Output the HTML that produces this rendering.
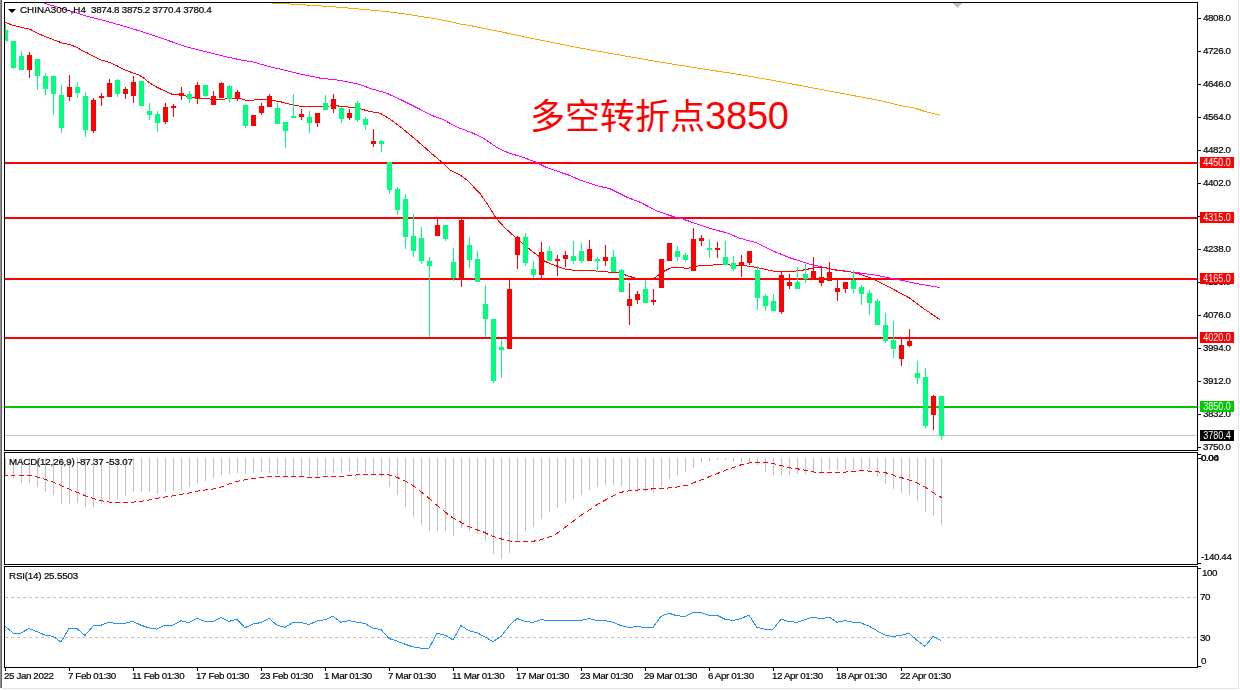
<!DOCTYPE html>
<html><head><meta charset="utf-8"><title>CHINA300 H4</title>
<style>
html,body{margin:0;padding:0;background:#fff;}
body{width:1240px;height:690px;position:relative;overflow:hidden;}
.t{position:absolute;font-family:"Liberation Sans",Arial,sans-serif;font-size:9.8px;letter-spacing:-0.4px;line-height:11px;color:#000;white-space:pre;will-change:transform;-webkit-text-stroke:0.2px #000;}
.lb{position:absolute;left:1200px;width:34px;height:11px;font-family:"Liberation Sans",Arial,sans-serif;font-size:9px;line-height:11px;color:#fff;text-align:center;white-space:pre;}
.lb span{display:inline-block;transform:scaleY(1.16);transform-origin:0 2px;}
.big{position:absolute;left:530px;top:94.4px;font-family:"Liberation Sans","Noto Sans CJK SC",sans-serif;font-size:35px;line-height:44px;color:#FF0000;white-space:pre;}
.dg{font-size:38px;letter-spacing:-0.2px;position:relative;top:-0.5px;}
.tri{position:absolute;left:8px;top:9px;width:0;height:0;border-left:4px solid transparent;border-right:4px solid transparent;border-top:4px solid #000;}
.lbar{position:absolute;left:0;top:0;width:1px;height:688px;background:#909090;}
.lbar2{position:absolute;left:1px;top:0;width:1px;height:688px;background:#606060;}
.rline{position:absolute;left:1238px;top:0;width:1px;height:689px;background:#E3E3E3;}
.bline{position:absolute;left:2px;top:688px;width:1237px;height:1px;background:#E3E3E3;}
</style></head><body>
<div class="lbar"></div><div class="lbar2"></div><div class="rline"></div><div class="bline"></div>
<svg width="1240" height="690" style="position:absolute;left:0;top:0"><defs><clipPath id="cm"><rect x="5" y="3" width="1192" height="447"/></clipPath><clipPath id="cmacd"><rect x="5" y="453" width="1192" height="111"/></clipPath><clipPath id="crsi"><rect x="5" y="567" width="1192" height="100"/></clipPath></defs><g clip-path="url(#cm)" shape-rendering="crispEdges"><rect x="5" y="162" width="1192" height="2" fill="#FF0000"/><rect x="5" y="217" width="1192" height="2" fill="#FF0000"/><rect x="5" y="278" width="1192" height="2" fill="#FF0000"/><rect x="5" y="337" width="1192" height="2" fill="#FF0000"/><rect x="5" y="406" width="1192" height="2" fill="#00C800"/><rect x="5" y="435" width="1192" height="1" fill="#C0C0C0"/><polyline points="272,3.5 282,3.5 298,4.5 314,5.5 330,6.5 354,8.5 370,10 386,11.5 402,13.5 418,16 434,18.5 450,21.5 460,24 470,25.5 500.3,31.7 540.6,40.2 581,48.2 621.3,55.3 661.6,62.3 700,68.5 739.5,74.5 779,81.5 818.6,89 858.1,96.5 880,100.5 900,105.5 906,106.5 912,107.5 916,108.5 919,109.5 922,110.5 925,111.5 929,112.5 933,113.5 937,114.5 940.5,115.5" fill="none" stroke="#FFA500" stroke-width="1" /><polyline points="44,3 48,4.3 69,10.6 88,16.5 107,21.3 127,27.1 146,32.9 165,39.4 185,46.4 204,51.3 223,56.1 243,60.4 252,61.7 270,66.8 284,70 300,74 320,78.1 340,80.4 360,84.5 370,88.4 386,92.9 402,100.2 418,108.2 430,114.7 443,119.5 457,127.1 473,133.2 484.5,138.9 496,146.9 507,152.3 523,157.4 534.5,161.5 547.4,167.9 570,175.5 579.4,179.8 597.1,185.8 610,188.7 627.7,197.6 640.6,202.4 656.8,211 672.9,216.5 682.6,219 698.7,224.5 714.8,229.8 727.7,233.1 740,238.3 757,242.9 773.9,251.4 790.8,258.1 807.8,263.7 818,266.1 829.8,268.8 841.7,270.8 858.6,272.9 875.6,275.1 887.5,277.6 901,280.2 918,283.9 940,287.5" fill="none" stroke="#FF00FF" stroke-width="1" /><polyline points="4,22 5,22.4 8,23.4 13,25.4 18,26.5 22,27.5 26,28.4 30,29.2 34,31.5 38,33.5 45,36.5 52,39.1 62,43 70,44.5 76,47 83,51 88,53.2 92,55.7 101,60 110,62.5 117,65.8 125,69.9 133,73 139,75.1 145,79.1 150,83.2 157,87.3 165,91.1 172,94.2 178,94.5 183,95.4 190,97 200,98.3 215,99.4 225,99 240,98.3 245,100 250,100.4 260,99.4 270,100.2 280,101.6 290,104.2 300,106.2 320,106.2 330,106 335,104.8 340,106.5 350,107.1 360,108.8 370,111.5 380,113.1 389.4,118.7 402.3,128.4 416.8,140.5 429.7,151.8 441,161.5 450.6,170.3 460.3,175.2 467,180 480,193.6 488,205 496,218 505,228 515,237 525,245.7 535,253.3 545,261.4 555,265.5 565,269 575,270.5 590,270.5 605,271.8 620,273 630,276.6 640,279.3 650,279.6 655,277.8 659,274.7 664,271.2 669,268.7 674,267.1 680,267.1 685,268.3 689,268.1 693,267.1 700,265.5 712,265.4 715,264.3 725,264.3 730,265 735,265.7 740,264.9 757,267.5 773.9,271.2 782.4,271.9 799.3,270.8 807.8,269.2 816.3,267.1 824.7,267.5 834.9,270 848.5,271.4 858.6,273.9 872.2,278.5 884.1,284.4 909.5,298 923,308.1 940,319.7" fill="none" stroke="#FF0000" stroke-width="1" /><rect x="5" y="24" width="1" height="17" fill="#00FF7F"/><rect x="3" y="30" width="5" height="11" fill="#00FF7F"/><rect x="13" y="41" width="1" height="28" fill="#00FF7F"/><rect x="11" y="41" width="5" height="27" fill="#00FF7F"/><rect x="21" y="51" width="1" height="19" fill="#00FF7F"/><rect x="19" y="56" width="5" height="14" fill="#00FF7F"/><rect x="29" y="52" width="1" height="26" fill="#FF0000"/><rect x="27" y="55" width="5" height="15" fill="#FF0000"/><rect x="37" y="59" width="1" height="31" fill="#00FF7F"/><rect x="35" y="59" width="5" height="17" fill="#00FF7F"/><rect x="45" y="73" width="1" height="22" fill="#00FF7F"/><rect x="43" y="76" width="5" height="13" fill="#00FF7F"/><rect x="53" y="76" width="1" height="39" fill="#00FF7F"/><rect x="51" y="76" width="5" height="18" fill="#00FF7F"/><rect x="61" y="85" width="1" height="48" fill="#00FF7F"/><rect x="59" y="95" width="5" height="33" fill="#00FF7F"/><rect x="69" y="75" width="1" height="26" fill="#FF0000"/><rect x="67" y="87" width="5" height="10" fill="#FF0000"/><rect x="77" y="82" width="1" height="16" fill="#00FF7F"/><rect x="75" y="87" width="5" height="6" fill="#00FF7F"/><rect x="85" y="92" width="1" height="45" fill="#00FF7F"/><rect x="83" y="96" width="5" height="34" fill="#00FF7F"/><rect x="93" y="98" width="1" height="35" fill="#FF0000"/><rect x="91" y="100" width="5" height="31" fill="#FF0000"/><rect x="101" y="93" width="1" height="13" fill="#FF0000"/><rect x="99" y="96" width="5" height="2" fill="#FF0000"/><rect x="109" y="79" width="1" height="17" fill="#FF0000"/><rect x="107" y="83" width="5" height="14" fill="#FF0000"/><rect x="117" y="79" width="1" height="18" fill="#00FF7F"/><rect x="115" y="80" width="5" height="14" fill="#00FF7F"/><rect x="125" y="87" width="1" height="12" fill="#FF0000"/><rect x="123" y="89" width="5" height="5" fill="#FF0000"/><rect x="133" y="76" width="1" height="27" fill="#FF0000"/><rect x="131" y="82" width="5" height="14" fill="#FF0000"/><rect x="141" y="81" width="1" height="24" fill="#00FF7F"/><rect x="139" y="81" width="5" height="25" fill="#00FF7F"/><rect x="149" y="103" width="1" height="17" fill="#00FF7F"/><rect x="147" y="111" width="5" height="4" fill="#00FF7F"/><rect x="157" y="111" width="1" height="21" fill="#00FF7F"/><rect x="155" y="114" width="5" height="9" fill="#00FF7F"/><rect x="165" y="103" width="1" height="21" fill="#FF0000"/><rect x="163" y="107" width="5" height="15" fill="#FF0000"/><rect x="173" y="104" width="1" height="13" fill="#FF0000"/><rect x="171" y="106" width="5" height="2" fill="#FF0000"/><rect x="181" y="87" width="1" height="13" fill="#FF0000"/><rect x="179" y="93" width="5" height="3" fill="#FF0000"/><rect x="189" y="91" width="1" height="12" fill="#00FF7F"/><rect x="187" y="94" width="5" height="5" fill="#00FF7F"/><rect x="197" y="82" width="1" height="22" fill="#FF0000"/><rect x="195" y="85" width="5" height="14" fill="#FF0000"/><rect x="205" y="85" width="1" height="12" fill="#00FF7F"/><rect x="203" y="85" width="5" height="11" fill="#00FF7F"/><rect x="213" y="91" width="1" height="14" fill="#FF0000"/><rect x="211" y="96" width="5" height="9" fill="#FF0000"/><rect x="221" y="82" width="1" height="15" fill="#FF0000"/><rect x="219" y="83" width="5" height="15" fill="#FF0000"/><rect x="229" y="85" width="1" height="17" fill="#00FF7F"/><rect x="227" y="86" width="5" height="13" fill="#00FF7F"/><rect x="237" y="90" width="1" height="11" fill="#FF0000"/><rect x="235" y="92" width="5" height="7" fill="#FF0000"/><rect x="245" y="105" width="1" height="23" fill="#00FF7F"/><rect x="243" y="105" width="5" height="21" fill="#00FF7F"/><rect x="253" y="115" width="1" height="10" fill="#FF0000"/><rect x="251" y="115" width="5" height="11" fill="#FF0000"/><rect x="261" y="103" width="1" height="12" fill="#FF0000"/><rect x="259" y="106" width="5" height="7" fill="#FF0000"/><rect x="269" y="94" width="1" height="12" fill="#FF0000"/><rect x="267" y="96" width="5" height="11" fill="#FF0000"/><rect x="277" y="103" width="1" height="21" fill="#00FF7F"/><rect x="275" y="108" width="5" height="16" fill="#00FF7F"/><rect x="285" y="122" width="1" height="26" fill="#00FF7F"/><rect x="283" y="122" width="5" height="9" fill="#00FF7F"/><rect x="293" y="94" width="1" height="24" fill="#00FF7F"/><rect x="291" y="116" width="5" height="2" fill="#00FF7F"/><rect x="301" y="109" width="1" height="11" fill="#FF0000"/><rect x="299" y="114" width="5" height="3" fill="#FF0000"/><rect x="309" y="111" width="1" height="22" fill="#00FF7F"/><rect x="307" y="117" width="5" height="6" fill="#00FF7F"/><rect x="317" y="113" width="1" height="14" fill="#FF0000"/><rect x="315" y="113" width="5" height="10" fill="#FF0000"/><rect x="325" y="95" width="1" height="14" fill="#00FF7F"/><rect x="323" y="103" width="5" height="7" fill="#00FF7F"/><rect x="333" y="94" width="1" height="19" fill="#FF0000"/><rect x="331" y="99" width="5" height="10" fill="#FF0000"/><rect x="341" y="107" width="1" height="16" fill="#00FF7F"/><rect x="339" y="108" width="5" height="11" fill="#00FF7F"/><rect x="349" y="109" width="1" height="11" fill="#FF0000"/><rect x="347" y="113" width="5" height="5" fill="#FF0000"/><rect x="357" y="101" width="1" height="21" fill="#00FF7F"/><rect x="355" y="103" width="5" height="17" fill="#00FF7F"/><rect x="365" y="117" width="1" height="13" fill="#00FF7F"/><rect x="363" y="119" width="5" height="6" fill="#00FF7F"/><rect x="373" y="129" width="1" height="18" fill="#FF0000"/><rect x="371" y="141" width="5" height="3" fill="#FF0000"/><rect x="381" y="140" width="1" height="12" fill="#00FF7F"/><rect x="379" y="141" width="5" height="3" fill="#00FF7F"/><rect x="389" y="162" width="1" height="32" fill="#00FF7F"/><rect x="387" y="162" width="5" height="28" fill="#00FF7F"/><rect x="397" y="187" width="1" height="28" fill="#00FF7F"/><rect x="395" y="189" width="5" height="21" fill="#00FF7F"/><rect x="405" y="194" width="1" height="55" fill="#00FF7F"/><rect x="403" y="199" width="5" height="38" fill="#00FF7F"/><rect x="413" y="214" width="1" height="43" fill="#00FF7F"/><rect x="411" y="236" width="5" height="15" fill="#00FF7F"/><rect x="421" y="227" width="1" height="37" fill="#00FF7F"/><rect x="419" y="238" width="5" height="23" fill="#00FF7F"/><rect x="429" y="257" width="1" height="80" fill="#00FF7F"/><rect x="427" y="261" width="5" height="5" fill="#00FF7F"/><rect x="437" y="218" width="1" height="18" fill="#FF0000"/><rect x="435" y="225" width="5" height="11" fill="#FF0000"/><rect x="445" y="225" width="1" height="16" fill="#00FF7F"/><rect x="443" y="225" width="5" height="14" fill="#00FF7F"/><rect x="453" y="248" width="1" height="33" fill="#00FF7F"/><rect x="451" y="262" width="5" height="16" fill="#00FF7F"/><rect x="461" y="218" width="1" height="69" fill="#FF0000"/><rect x="459" y="220" width="5" height="59" fill="#FF0000"/><rect x="469" y="237" width="1" height="31" fill="#00FF7F"/><rect x="467" y="245" width="5" height="15" fill="#00FF7F"/><rect x="477" y="251" width="1" height="31" fill="#00FF7F"/><rect x="475" y="259" width="5" height="23" fill="#00FF7F"/><rect x="485" y="285" width="1" height="52" fill="#00FF7F"/><rect x="483" y="304" width="5" height="15" fill="#00FF7F"/><rect x="493" y="319" width="1" height="64" fill="#00FF7F"/><rect x="491" y="319" width="5" height="62" fill="#00FF7F"/><rect x="501" y="339" width="1" height="39" fill="#00FF7F"/><rect x="499" y="347" width="5" height="3" fill="#00FF7F"/><rect x="509" y="280" width="1" height="68" fill="#FF0000"/><rect x="507" y="289" width="5" height="60" fill="#FF0000"/><rect x="517" y="236" width="1" height="33" fill="#FF0000"/><rect x="515" y="237" width="5" height="18" fill="#FF0000"/><rect x="525" y="233" width="1" height="33" fill="#00FF7F"/><rect x="523" y="237" width="5" height="26" fill="#00FF7F"/><rect x="533" y="261" width="1" height="17" fill="#00FF7F"/><rect x="531" y="269" width="5" height="6" fill="#00FF7F"/><rect x="541" y="242" width="1" height="36" fill="#FF0000"/><rect x="539" y="252" width="5" height="23" fill="#FF0000"/><rect x="549" y="246" width="1" height="14" fill="#00FF7F"/><rect x="547" y="251" width="5" height="10" fill="#00FF7F"/><rect x="557" y="255" width="1" height="21" fill="#FF0000"/><rect x="555" y="259" width="5" height="2" fill="#FF0000"/><rect x="565" y="251" width="1" height="16" fill="#FF0000"/><rect x="563" y="255" width="5" height="4" fill="#FF0000"/><rect x="573" y="241" width="1" height="23" fill="#00FF7F"/><rect x="571" y="256" width="5" height="5" fill="#00FF7F"/><rect x="581" y="243" width="1" height="20" fill="#00FF7F"/><rect x="579" y="251" width="5" height="10" fill="#00FF7F"/><rect x="589" y="240" width="1" height="20" fill="#FF0000"/><rect x="587" y="249" width="5" height="12" fill="#FF0000"/><rect x="597" y="257" width="1" height="15" fill="#00FF7F"/><rect x="595" y="259" width="5" height="2" fill="#00FF7F"/><rect x="605" y="245" width="1" height="21" fill="#FF0000"/><rect x="603" y="257" width="5" height="4" fill="#FF0000"/><rect x="613" y="250" width="1" height="21" fill="#00FF7F"/><rect x="611" y="257" width="5" height="15" fill="#00FF7F"/><rect x="621" y="269" width="1" height="22" fill="#00FF7F"/><rect x="619" y="270" width="5" height="22" fill="#00FF7F"/><rect x="629" y="283" width="1" height="42" fill="#FF0000"/><rect x="627" y="299" width="5" height="7" fill="#FF0000"/><rect x="637" y="291" width="1" height="13" fill="#FF0000"/><rect x="635" y="294" width="5" height="6" fill="#FF0000"/><rect x="645" y="280" width="1" height="22" fill="#00FF7F"/><rect x="643" y="289" width="5" height="14" fill="#00FF7F"/><rect x="653" y="289" width="1" height="16" fill="#FF0000"/><rect x="651" y="300" width="5" height="2" fill="#FF0000"/><rect x="661" y="259" width="1" height="29" fill="#FF0000"/><rect x="659" y="259" width="5" height="29" fill="#FF0000"/><rect x="669" y="243" width="1" height="18" fill="#FF0000"/><rect x="667" y="243" width="5" height="18" fill="#FF0000"/><rect x="677" y="246" width="1" height="15" fill="#00FF7F"/><rect x="675" y="251" width="5" height="6" fill="#00FF7F"/><rect x="685" y="253" width="1" height="9" fill="#00FF7F"/><rect x="683" y="255" width="5" height="5" fill="#00FF7F"/><rect x="693" y="228" width="1" height="43" fill="#FF0000"/><rect x="691" y="239" width="5" height="32" fill="#FF0000"/><rect x="701" y="235" width="1" height="11" fill="#FF0000"/><rect x="699" y="238" width="5" height="3" fill="#FF0000"/><rect x="709" y="239" width="1" height="19" fill="#00FF7F"/><rect x="707" y="248" width="5" height="2" fill="#00FF7F"/><rect x="717" y="242" width="1" height="16" fill="#FF0000"/><rect x="715" y="248" width="5" height="2" fill="#FF0000"/><rect x="725" y="241" width="1" height="23" fill="#00FF7F"/><rect x="723" y="257" width="5" height="8" fill="#00FF7F"/><rect x="733" y="256" width="1" height="15" fill="#00FF7F"/><rect x="731" y="263" width="5" height="6" fill="#00FF7F"/><rect x="741" y="255" width="1" height="22" fill="#FF0000"/><rect x="739" y="262" width="5" height="4" fill="#FF0000"/><rect x="749" y="251" width="1" height="14" fill="#FF0000"/><rect x="747" y="251" width="5" height="12" fill="#FF0000"/><rect x="757" y="266" width="1" height="44" fill="#00FF7F"/><rect x="755" y="270" width="5" height="28" fill="#00FF7F"/><rect x="765" y="294" width="1" height="17" fill="#00FF7F"/><rect x="763" y="296" width="5" height="10" fill="#00FF7F"/><rect x="773" y="294" width="1" height="17" fill="#00FF7F"/><rect x="771" y="301" width="5" height="10" fill="#00FF7F"/><rect x="781" y="271" width="1" height="43" fill="#FF0000"/><rect x="779" y="275" width="5" height="37" fill="#FF0000"/><rect x="789" y="274" width="1" height="15" fill="#FF0000"/><rect x="787" y="282" width="5" height="4" fill="#FF0000"/><rect x="797" y="267" width="1" height="22" fill="#00FF7F"/><rect x="795" y="282" width="5" height="7" fill="#00FF7F"/><rect x="805" y="264" width="1" height="19" fill="#00FF7F"/><rect x="803" y="274" width="5" height="5" fill="#00FF7F"/><rect x="813" y="257" width="1" height="21" fill="#FF0000"/><rect x="811" y="271" width="5" height="8" fill="#FF0000"/><rect x="821" y="267" width="1" height="19" fill="#FF0000"/><rect x="819" y="277" width="5" height="6" fill="#FF0000"/><rect x="829" y="262" width="1" height="19" fill="#FF0000"/><rect x="827" y="272" width="5" height="9" fill="#FF0000"/><rect x="837" y="280" width="1" height="21" fill="#FF0000"/><rect x="835" y="288" width="5" height="4" fill="#FF0000"/><rect x="845" y="282" width="1" height="11" fill="#FF0000"/><rect x="843" y="282" width="5" height="7" fill="#FF0000"/><rect x="853" y="270" width="1" height="23" fill="#00FF7F"/><rect x="851" y="280" width="5" height="9" fill="#00FF7F"/><rect x="861" y="285" width="1" height="20" fill="#00FF7F"/><rect x="859" y="287" width="5" height="7" fill="#00FF7F"/><rect x="869" y="290" width="1" height="25" fill="#00FF7F"/><rect x="867" y="293" width="5" height="10" fill="#00FF7F"/><rect x="877" y="299" width="1" height="25" fill="#00FF7F"/><rect x="875" y="301" width="5" height="24" fill="#00FF7F"/><rect x="885" y="313" width="1" height="30" fill="#00FF7F"/><rect x="883" y="325" width="5" height="16" fill="#00FF7F"/><rect x="893" y="321" width="1" height="37" fill="#00FF7F"/><rect x="891" y="340" width="5" height="9" fill="#00FF7F"/><rect x="901" y="338" width="1" height="28" fill="#FF0000"/><rect x="899" y="345" width="5" height="14" fill="#FF0000"/><rect x="909" y="329" width="1" height="18" fill="#FF0000"/><rect x="907" y="341" width="5" height="5" fill="#FF0000"/><rect x="917" y="361" width="1" height="23" fill="#00FF7F"/><rect x="915" y="373" width="5" height="5" fill="#00FF7F"/><rect x="925" y="368" width="1" height="60" fill="#00FF7F"/><rect x="923" y="377" width="5" height="49" fill="#00FF7F"/><rect x="933" y="395" width="1" height="35" fill="#FF0000"/><rect x="931" y="396" width="5" height="19" fill="#FF0000"/><rect x="941" y="396" width="1" height="44" fill="#00FF7F"/><rect x="939" y="396" width="5" height="40" fill="#00FF7F"/></g><g clip-path="url(#cmacd)" shape-rendering="crispEdges"><rect x="5" y="458" width="1" height="18" fill="#C0C0C0"/><rect x="13" y="458" width="1" height="20" fill="#C0C0C0"/><rect x="21" y="458" width="1" height="25" fill="#C0C0C0"/><rect x="29" y="458" width="1" height="25" fill="#C0C0C0"/><rect x="37" y="458" width="1" height="29" fill="#C0C0C0"/><rect x="45" y="458" width="1" height="34" fill="#C0C0C0"/><rect x="53" y="458" width="1" height="37" fill="#C0C0C0"/><rect x="61" y="458" width="1" height="46" fill="#C0C0C0"/><rect x="69" y="458" width="1" height="46" fill="#C0C0C0"/><rect x="77" y="458" width="1" height="45" fill="#C0C0C0"/><rect x="85" y="458" width="1" height="49" fill="#C0C0C0"/><rect x="93" y="458" width="1" height="49" fill="#C0C0C0"/><rect x="101" y="458" width="1" height="46" fill="#C0C0C0"/><rect x="109" y="458" width="1" height="42" fill="#C0C0C0"/><rect x="117" y="458" width="1" height="41" fill="#C0C0C0"/><rect x="125" y="458" width="1" height="38" fill="#C0C0C0"/><rect x="133" y="458" width="1" height="34" fill="#C0C0C0"/><rect x="141" y="458" width="1" height="34" fill="#C0C0C0"/><rect x="149" y="458" width="1" height="34" fill="#C0C0C0"/><rect x="157" y="458" width="1" height="36" fill="#C0C0C0"/><rect x="165" y="458" width="1" height="34" fill="#C0C0C0"/><rect x="173" y="458" width="1" height="33" fill="#C0C0C0"/><rect x="181" y="458" width="1" height="32" fill="#C0C0C0"/><rect x="189" y="458" width="1" height="29" fill="#C0C0C0"/><rect x="197" y="458" width="1" height="25" fill="#C0C0C0"/><rect x="205" y="458" width="1" height="23" fill="#C0C0C0"/><rect x="213" y="458" width="1" height="20" fill="#C0C0C0"/><rect x="221" y="458" width="1" height="17" fill="#C0C0C0"/><rect x="229" y="458" width="1" height="16" fill="#C0C0C0"/><rect x="237" y="458" width="1" height="15" fill="#C0C0C0"/><rect x="245" y="458" width="1" height="16" fill="#C0C0C0"/><rect x="253" y="458" width="1" height="15" fill="#C0C0C0"/><rect x="261" y="458" width="1" height="14" fill="#C0C0C0"/><rect x="269" y="458" width="1" height="15" fill="#C0C0C0"/><rect x="277" y="458" width="1" height="16" fill="#C0C0C0"/><rect x="285" y="458" width="1" height="19" fill="#C0C0C0"/><rect x="293" y="458" width="1" height="19" fill="#C0C0C0"/><rect x="301" y="458" width="1" height="19" fill="#C0C0C0"/><rect x="309" y="458" width="1" height="18" fill="#C0C0C0"/><rect x="317" y="458" width="1" height="20" fill="#C0C0C0"/><rect x="325" y="458" width="1" height="17" fill="#C0C0C0"/><rect x="333" y="458" width="1" height="15" fill="#C0C0C0"/><rect x="341" y="458" width="1" height="15" fill="#C0C0C0"/><rect x="349" y="458" width="1" height="14" fill="#C0C0C0"/><rect x="357" y="458" width="1" height="14" fill="#C0C0C0"/><rect x="365" y="458" width="1" height="15" fill="#C0C0C0"/><rect x="373" y="458" width="1" height="17" fill="#C0C0C0"/><rect x="381" y="458" width="1" height="19" fill="#C0C0C0"/><rect x="389" y="458" width="1" height="29" fill="#C0C0C0"/><rect x="397" y="458" width="1" height="37" fill="#C0C0C0"/><rect x="405" y="458" width="1" height="49" fill="#C0C0C0"/><rect x="413" y="458" width="1" height="59" fill="#C0C0C0"/><rect x="421" y="458" width="1" height="67" fill="#C0C0C0"/><rect x="429" y="458" width="1" height="73" fill="#C0C0C0"/><rect x="437" y="458" width="1" height="73" fill="#C0C0C0"/><rect x="445" y="458" width="1" height="73" fill="#C0C0C0"/><rect x="453" y="458" width="1" height="78" fill="#C0C0C0"/><rect x="461" y="458" width="1" height="70" fill="#C0C0C0"/><rect x="469" y="458" width="1" height="73" fill="#C0C0C0"/><rect x="477" y="458" width="1" height="76" fill="#C0C0C0"/><rect x="485" y="458" width="1" height="83" fill="#C0C0C0"/><rect x="493" y="458" width="1" height="96" fill="#C0C0C0"/><rect x="501" y="458" width="1" height="101" fill="#C0C0C0"/><rect x="509" y="458" width="1" height="95" fill="#C0C0C0"/><rect x="517" y="458" width="1" height="82" fill="#C0C0C0"/><rect x="525" y="458" width="1" height="73" fill="#C0C0C0"/><rect x="533" y="458" width="1" height="69" fill="#C0C0C0"/><rect x="541" y="458" width="1" height="61" fill="#C0C0C0"/><rect x="549" y="458" width="1" height="54" fill="#C0C0C0"/><rect x="557" y="458" width="1" height="50" fill="#C0C0C0"/><rect x="565" y="458" width="1" height="45" fill="#C0C0C0"/><rect x="573" y="458" width="1" height="41" fill="#C0C0C0"/><rect x="581" y="458" width="1" height="37" fill="#C0C0C0"/><rect x="589" y="458" width="1" height="32" fill="#C0C0C0"/><rect x="597" y="458" width="1" height="29" fill="#C0C0C0"/><rect x="605" y="458" width="1" height="27" fill="#C0C0C0"/><rect x="613" y="458" width="1" height="27" fill="#C0C0C0"/><rect x="621" y="458" width="1" height="28" fill="#C0C0C0"/><rect x="629" y="458" width="1" height="32" fill="#C0C0C0"/><rect x="637" y="458" width="1" height="34" fill="#C0C0C0"/><rect x="645" y="458" width="1" height="34" fill="#C0C0C0"/><rect x="653" y="458" width="1" height="35" fill="#C0C0C0"/><rect x="661" y="458" width="1" height="29" fill="#C0C0C0"/><rect x="669" y="458" width="1" height="21" fill="#C0C0C0"/><rect x="677" y="458" width="1" height="17" fill="#C0C0C0"/><rect x="685" y="458" width="1" height="14" fill="#C0C0C0"/><rect x="693" y="458" width="1" height="10" fill="#C0C0C0"/><rect x="701" y="458" width="1" height="5" fill="#C0C0C0"/><rect x="709" y="458" width="1" height="3" fill="#C0C0C0"/><rect x="717" y="458" width="1" height="2" fill="#C0C0C0"/><rect x="725" y="458" width="1" height="2" fill="#C0C0C0"/><rect x="733" y="458" width="1" height="3" fill="#C0C0C0"/><rect x="741" y="458" width="1" height="5" fill="#C0C0C0"/><rect x="749" y="458" width="1" height="5" fill="#C0C0C0"/><rect x="757" y="458" width="1" height="7" fill="#C0C0C0"/><rect x="765" y="458" width="1" height="14" fill="#C0C0C0"/><rect x="773" y="458" width="1" height="17" fill="#C0C0C0"/><rect x="781" y="458" width="1" height="17" fill="#C0C0C0"/><rect x="789" y="458" width="1" height="17" fill="#C0C0C0"/><rect x="797" y="458" width="1" height="16" fill="#C0C0C0"/><rect x="805" y="458" width="1" height="16" fill="#C0C0C0"/><rect x="813" y="458" width="1" height="15" fill="#C0C0C0"/><rect x="821" y="458" width="1" height="14" fill="#C0C0C0"/><rect x="829" y="458" width="1" height="12" fill="#C0C0C0"/><rect x="837" y="458" width="1" height="12" fill="#C0C0C0"/><rect x="845" y="458" width="1" height="12" fill="#C0C0C0"/><rect x="853" y="458" width="1" height="12" fill="#C0C0C0"/><rect x="861" y="458" width="1" height="12" fill="#C0C0C0"/><rect x="869" y="458" width="1" height="14" fill="#C0C0C0"/><rect x="877" y="458" width="1" height="19" fill="#C0C0C0"/><rect x="885" y="458" width="1" height="26" fill="#C0C0C0"/><rect x="893" y="458" width="1" height="31" fill="#C0C0C0"/><rect x="901" y="458" width="1" height="35" fill="#C0C0C0"/><rect x="909" y="458" width="1" height="37" fill="#C0C0C0"/><rect x="917" y="458" width="1" height="43" fill="#C0C0C0"/><rect x="925" y="458" width="1" height="54" fill="#C0C0C0"/><rect x="933" y="458" width="1" height="58" fill="#C0C0C0"/><rect x="941" y="458" width="1" height="67" fill="#C0C0C0"/><path d="M3,475.50L8,475.31M11,475.12L16,475.00M19,475.00L24,475.19M27,475.38L32,475.99M35,476.48L40,477.77M43,478.75L48,480.38M51,481.35L56,483.24M59,484.48L64,486.76M67,488.23L72,490.36M75,491.52L80,493.57M83,494.85L88,496.64M91,497.57L96,499.18M99,500.15L104,501.29M107,501.78L112,502.29M115,502.48L120,502.71M123,502.82L128,502.60M131,502.30L136,501.80M139,501.50L144,500.81M147,500.32L152,499.32M155,498.65L160,497.75M163,497.30L168,496.59M171,496.17L176,495.34M179,494.77L184,493.91M187,493.43L192,492.31M195,491.52L200,490.62M203,490.25L208,489.70M211,489.40L216,488.41M219,487.62L224,485.94M227,484.77L232,483.06M235,482.12L240,480.82M243,480.15L248,479.21M251,478.72L256,478.10M259,477.80L264,477.30M267,477.00L272,476.80M275,476.80L280,476.80M283,476.80L288,476.80M291,476.80L296,476.80M299,476.80L304,476.91M307,477.03L312,477.18M315,477.25L320,477.11M323,476.93L328,476.71M331,476.61L336,476.46M339,476.36L344,476.04M347,475.78L352,475.35M355,475.09L360,474.80M363,474.65L368,474.40M371,474.25L376,474.28M379,474.34L384,474.44M387,474.50L392,475.91M395,476.75L400,478.57M403,480.03L408,482.61M411,484.23L416,487.74M419,490.18L424,494.20M427,496.60L432,500.99M435,503.77L440,507.90M443,510.30L448,514.35M451,516.79L456,519.55M459,521.01L464,524.01M467,525.90L472,527.96M475,529.20L480,530.83M483,531.80L488,534.24M491,535.70L496,537.35M499,538.34L504,539.69M507,540.38L512,541.35M515,541.48L520,541.72M523,541.85L528,541.56M531,541.31L536,540.88M539,540.22L544,538.75M547,537.88L552,536.02M555,534.56L560,531.47M563,529.03L568,525.19M571,522.98L576,519.06M579,516.62L584,513.27M587,511.55L592,508.17M595,505.94L600,503.00M603,501.35L608,498.60M611,496.95L616,494.35M619,492.81L624,491.65M627,491.16L632,490.60M635,490.30L640,489.80M643,489.50L648,489.13M651,489.03L656,488.87M659,488.77L664,488.40M667,488.10L672,487.60M675,487.30L680,486.56M683,486.02L688,484.91M691,483.75L696,481.85M699,480.80L704,478.96M707,477.63L712,475.52M715,474.36L720,472.43M723,471.26L728,469.40M731,468.35L736,466.56M739,465.44L744,464.02M747,463.35L752,462.60M755,462.30L760,462.29M763,462.48L768,462.99M771,463.38L776,464.16M779,464.95L784,466.29M787,467.14L792,468.24M795,468.59L800,469.18M803,469.81L808,471.10M811,471.54L816,472.27M819,472.71L824,472.94M827,472.89L832,472.79M835,472.74L840,472.46M843,472.22L848,471.82M851,471.57L856,471.17M859,470.93L864,470.67M867,470.89L872,471.30M875,471.60L880,472.16M883,472.55L888,473.20M891,474.36L896,476.30M899,477.09L904,478.40M907,479.38L912,481.00M915,482.29L920,484.50M923,486.00L928,488.78M931,491.13L936,494.54M939,496.38L942,497.60" fill="none" stroke="#FF0000" stroke-width="1"/></g><g clip-path="url(#crsi)" shape-rendering="crispEdges"><line x1="5" y1="597.5" x2="1197" y2="597.5" stroke="#C0C0C0" stroke-width="1" stroke-dasharray="3,3"/><line x1="5" y1="637.5" x2="1197" y2="637.5" stroke="#C0C0C0" stroke-width="1" stroke-dasharray="3,3"/><polyline points="5,626.0 13,633.0 21,633.0 29,628.6 37,631.7 45,635.0 53,636.3 61,642.0 69,628.6 77,628.6 85,635.5 93,626.0 101,625.2 109,622.1 117,623.9 125,623.2 133,621.4 141,625.2 149,627.8 157,629.1 165,625.2 173,625.2 181,620.8 189,622.6 197,618.3 205,621.4 213,621.4 221,617.5 229,621.4 237,619.3 245,627.8 253,623.9 261,622.6 269,618.3 277,625.2 285,627.3 293,622.6 301,622.6 309,624.5 317,621.0 325,619.7 333,616.3 341,622.3 349,620.5 357,622.3 365,623.5 373,628.2 381,629.5 389,638.5 397,641.1 405,644.2 413,646.8 421,648.1 429,648.1 437,633.4 445,635.2 453,639.8 461,625.6 469,630.8 477,632.6 485,637.0 493,641.6 501,636.5 509,626.1 517,618.4 525,621.5 533,622.3 541,619.7 549,620.5 557,620.5 565,620.5 573,620.5 581,620.5 589,618.4 597,620.5 605,620.5 613,622.3 621,625.6 629,627.4 637,626.6 645,627.4 653,627.4 661,616.3 669,613.2 677,615.8 685,616.3 693,612.7 701,612.7 709,615.3 717,615.3 725,619.2 733,620.5 741,618.4 749,615.3 757,627.4 765,629.2 773,629.2 781,619.2 789,621.5 797,622.3 805,619.7 813,617.1 821,618.9 829,617.1 837,622.3 845,620.5 853,622.3 861,623.0 869,626.1 877,630.8 885,635.2 893,636.5 901,635.2 909,633.4 917,640.3 925,646.3 933,636.5 941,640.3" fill="none" stroke="#1E90FF" stroke-width="1" /></g><g shape-rendering="crispEdges"><rect x="4" y="2" width="1194" height="1" fill="#000"/><rect x="4" y="450" width="1194" height="1" fill="#000"/><rect x="4" y="2" width="1" height="449" fill="#000"/><rect x="1197" y="2" width="1" height="449" fill="#000"/><rect x="4" y="452" width="1194" height="1" fill="#000"/><rect x="4" y="564" width="1194" height="1" fill="#000"/><rect x="4" y="452" width="1" height="113" fill="#000"/><rect x="1197" y="452" width="1" height="113" fill="#000"/><rect x="4" y="566" width="1194" height="1" fill="#000"/><rect x="4" y="667" width="1194" height="1" fill="#000"/><rect x="4" y="566" width="1" height="102" fill="#000"/><rect x="1197" y="566" width="1" height="102" fill="#000"/><rect x="1198" y="18" width="3" height="1" fill="#000"/><rect x="1198" y="51" width="3" height="1" fill="#000"/><rect x="1198" y="84" width="3" height="1" fill="#000"/><rect x="1198" y="117" width="3" height="1" fill="#000"/><rect x="1198" y="150" width="3" height="1" fill="#000"/><rect x="1198" y="183" width="3" height="1" fill="#000"/><rect x="1198" y="216" width="3" height="1" fill="#000"/><rect x="1198" y="249" width="3" height="1" fill="#000"/><rect x="1198" y="282" width="3" height="1" fill="#000"/><rect x="1198" y="315" width="3" height="1" fill="#000"/><rect x="1198" y="348" width="3" height="1" fill="#000"/><rect x="1198" y="381" width="3" height="1" fill="#000"/><rect x="1198" y="414" width="3" height="1" fill="#000"/><rect x="1198" y="447" width="3" height="1" fill="#000"/><rect x="1198" y="454" width="3" height="1" fill="#000"/><rect x="1198" y="458" width="3" height="1" fill="#000"/><rect x="1198" y="563" width="3" height="1" fill="#000"/><rect x="1198" y="568" width="3" height="1" fill="#000"/><rect x="1198" y="666" width="3" height="1" fill="#000"/><rect x="5" y="668" width="1" height="3" fill="#000"/><rect x="69" y="668" width="1" height="3" fill="#000"/><rect x="133" y="668" width="1" height="3" fill="#000"/><rect x="197" y="668" width="1" height="3" fill="#000"/><rect x="261" y="668" width="1" height="3" fill="#000"/><rect x="325" y="668" width="1" height="3" fill="#000"/><rect x="389" y="668" width="1" height="3" fill="#000"/><rect x="453" y="668" width="1" height="3" fill="#000"/><rect x="517" y="668" width="1" height="3" fill="#000"/><rect x="581" y="668" width="1" height="3" fill="#000"/><rect x="645" y="668" width="1" height="3" fill="#000"/><rect x="709" y="668" width="1" height="3" fill="#000"/><rect x="773" y="668" width="1" height="3" fill="#000"/><rect x="837" y="668" width="1" height="3" fill="#000"/><rect x="901" y="668" width="1" height="3" fill="#000"/><polygon points="953,3 962,3 957.5,8" fill="#C0C0C0"/></g></svg>
<div class="tri"></div>
<div class="t" style="left:1203px;top:12.1px;">4808.0</div><div class="t" style="left:1203px;top:45.1px;">4726.0</div><div class="t" style="left:1203px;top:78.1px;">4646.0</div><div class="t" style="left:1203px;top:111.1px;">4564.0</div><div class="t" style="left:1203px;top:144.1px;">4482.0</div><div class="t" style="left:1203px;top:177.1px;">4402.0</div><div class="t" style="left:1203px;top:210.1px;">4320.0</div><div class="t" style="left:1203px;top:243.1px;">4238.0</div><div class="t" style="left:1203px;top:276.1px;">4156.0</div><div class="t" style="left:1203px;top:309.1px;">4076.0</div><div class="t" style="left:1203px;top:342.1px;">3994.0</div><div class="t" style="left:1203px;top:375.1px;">3912.0</div><div class="t" style="left:1203px;top:408.1px;">3832.0</div><div class="t" style="left:1203px;top:441.1px;">3750.0</div><div class="lb" style="top:157px;background:#FF0000"><span>4450.0</span></div><div class="lb" style="top:212px;background:#FF0000"><span>4315.0</span></div><div class="lb" style="top:273px;background:#FF0000"><span>4165.0</span></div><div class="lb" style="top:332px;background:#FF0000"><span>4020.0</span></div><div class="lb" style="top:401px;background:#00C800"><span>3850.0</span></div><div class="lb" style="top:430px;background:#000"><span>3780.4</span></div><div class="t" style="left:1201px;top:452.1px;">0.04</div><div class="t" style="left:1201px;top:452.1px;">0.00</div><div class="t" style="left:1201px;top:551.1px;">-140.44</div><div class="t" style="left:1202px;top:567.1px;">100</div><div class="t" style="left:1200px;top:591.4px;">70</div><div class="t" style="left:1200px;top:631.9px;">30</div><div class="t" style="left:1201px;top:654.7px;">0</div><div class="t" style="left:4px;top:670.1px;">25 Jan 2022</div><div class="t" style="left:68px;top:670.1px;">7 Feb 01:30</div><div class="t" style="left:132px;top:670.1px;">11 Feb 01:30</div><div class="t" style="left:196px;top:670.1px;">17 Feb 01:30</div><div class="t" style="left:260px;top:670.1px;">23 Feb 01:30</div><div class="t" style="left:324px;top:670.1px;">1 Mar 01:30</div><div class="t" style="left:388px;top:670.1px;">7 Mar 01:30</div><div class="t" style="left:452px;top:670.1px;">11 Mar 01:30</div><div class="t" style="left:516px;top:670.1px;">17 Mar 01:30</div><div class="t" style="left:580px;top:670.1px;">23 Mar 01:30</div><div class="t" style="left:644px;top:670.1px;">29 Mar 01:30</div><div class="t" style="left:708px;top:670.1px;">6 Apr 01:30</div><div class="t" style="left:772px;top:670.1px;">12 Apr 01:30</div><div class="t" style="left:836px;top:670.1px;">18 Apr 01:30</div><div class="t" style="left:900px;top:670.1px;">22 Apr 01:30</div><div class="t" style="left:20px;top:4.1px;letter-spacing:0.05px">CHINA300-,H4</div><div class="t" style="left:91px;top:4.1px;letter-spacing:-0.28px">3874.8 3875.2 3770.4 3780.4</div><div class="t" style="left:9px;top:455.6px;letter-spacing:-0.2px">MACD(12,26,9) -87.37 -53.07</div><div class="t" style="left:9px;top:569.6px;letter-spacing:-0.2px">RSI(14) 25.5503</div>
<div class="big">多空转折点<span class="dg">3850</span></div>
</body></html>
